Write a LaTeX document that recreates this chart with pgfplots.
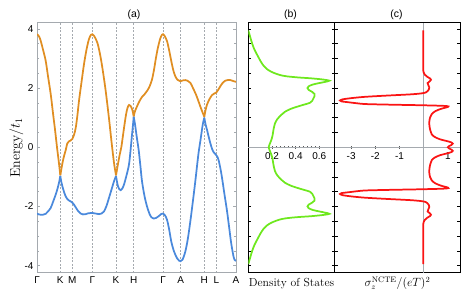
\documentclass[border=0pt]{standalone}
\usepackage{fontspec}
\setsansfont{Liberation Sans}
\usepackage{pgfplots}
\pgfplotsset{compat=1.18}
\definecolor{bandorange}{RGB}{224,142,34}
\definecolor{bandblue}{RGB}{74,137,220}
\definecolor{dosgreen}{RGB}{110,232,30}
\definecolor{ncred}{RGB}{250,20,20}
\definecolor{framegray}{RGB}{165,170,175}
\newcommand{\tl}{\sffamily\fontsize{10}{12}\selectfont}
\begin{document}
\begin{tikzpicture}[x=1bp,y=1bp]
\useasboundingbox (0,0) rectangle (468,300);
% ---------------- panel (a)
\begin{axis}[at={(37bp,27.3bp)}, anchor=south west, scale only axis,
  width=199bp, height=250bp,
  xmin=0, xmax=199, ymin=-4.24, ymax=4.21,
  axis line style={framegray, line width=0.8pt},
  xtick={0,23.3,35.3,55.3,79,96.7,126,143.7,167.3,179.3,199},
  xticklabels={Γ,K,M,Γ,K,H,Γ,A,H,L,A},
  xtick style={draw=none},
  xmajorgrids=true,
  major grid style={framegray, dash pattern=on 2pt off 1.5pt, line width=0.45pt},
  ytick={-4,-2,0,2,4}, yticklabels={-4,-2,0,2,4},
  minor y tick num=3, ytick pos=both,
  ytick style={framegray, line width=0.6pt},
  major tick length=3bp, minor tick length=2bp,
  ticklabel style={font=\tl},
  clip=true]
\addplot[bandorange, line width=1.75pt, smooth] coordinates {(0,3.82)(2,3.75)(3.7,3.6)(6,3.3)(8.7,2.92)(11,2.4)(13.7,1.8)(16,1.15)(18,0.6)(20,0.0)(22,-0.55)(23.3,-0.95)};
\addplot[bandorange, line width=1.75pt, smooth] coordinates {(23.3,-0.95)(25.3,-0.56)(27,-0.3)(28.7,-0.1)(30.3,0.13)(32,0.2)(33.7,0.23)(35.3,0.28)(37,0.42)(38.7,0.65)(40.3,1.05)(42,1.57)(44.5,2.2)(47,2.81)(49.5,3.3)(52,3.66)(54,3.8)(55.3,3.82)(57,3.77)(60.3,3.54)(63,3.15)(65.3,2.70)(68,2.08)(70.3,1.46)(72.5,0.82)(74.3,0.25)(76,-0.25)(77.3,-0.6)(79,-0.95)};
\addplot[bandorange, line width=1.75pt, smooth] coordinates {(79,-0.95)(81,-0.56)(82.7,-0.25)(84.3,0.0)(85.7,0.33)(87,0.65)(89,1.1)(90.5,1.33)(92,1.43)(93.5,1.4)(95.3,1.27)(96.7,1.04)};
\addplot[bandorange, line width=1.75pt, smooth] coordinates {(96.7,1.04)(98,1.22)(100,1.38)(102.5,1.56)(105,1.7)(107.5,1.79)(110,1.9)(112.5,2.05)(115,2.29)(117,2.62)(119,3.03)(121,3.38)(123.3,3.68)(125,3.8)(126,3.82)(127.5,3.77)(130,3.59)(132,3.3)(134.3,2.91)(136.3,2.6)(138.3,2.4)(140.5,2.28)(143.3,2.23)(146,2.26)(148.3,2.27)(150.5,2.25)(153.3,2.18)(156,2.0)(159,1.78)(161,1.6)(163.3,1.38)(165.3,1.2)(167.3,1.03)};
\addplot[bandorange, line width=1.75pt, smooth] coordinates {(167.3,1.03)(168.5,1.25)(170,1.44)(172.5,1.63)(175,1.76)(177,1.81)(179.3,1.85)(181,1.93)(183.3,2.06)(185.5,2.17)(188.3,2.25)(190.5,2.27)(193.3,2.27)(196,2.24)(199,2.21)};
\addplot[bandblue, line width=1.75pt, smooth] coordinates {(0,-2.24)(2,-2.27)(3.7,-2.28)(6,-2.28)(8.7,-2.25)(11,-2.17)(13.7,-2.05)(16,-1.85)(18.7,-1.6)(20.5,-1.4)(22,-1.2)(23.3,-0.97)};
\addplot[bandblue, line width=1.75pt, smooth] coordinates {(23.3,-0.97)(24.5,-1.2)(26.3,-1.43)(28.3,-1.63)(30.3,-1.75)(32,-1.8)(33.7,-1.83)(35.3,-1.87)(36.8,-1.93)(38.7,-2.03)(41,-2.15)(43.7,-2.24)(46,-2.27)(48.7,-2.26)(51.5,-2.23)(55.3,-2.22)(58.5,-2.24)(62,-2.26)(64.5,-2.24)(67,-2.17)(69.5,-1.98)(72,-1.71)(74.5,-1.43)(77,-1.15)(79,-0.97)};
\addplot[bandblue, line width=1.75pt, smooth] coordinates {(79,-0.97)(80,-1.17)(81,-1.32)(82.3,-1.42)(83.7,-1.45)(85.2,-1.4)(87,-1.26)(89.5,-0.95)(92,-0.58)(93.7,-0.05)(95,0.42)(96,0.76)(96.7,1.03)};
\addplot[bandblue, line width=1.75pt, smooth] coordinates {(96.7,1.03)(98,0.78)(99,0.53)(100.3,0.22)(101.7,-0.1)(103.3,-0.6)(105,-1.15)(107.5,-1.65)(110,-2.0)(112.5,-2.25)(114.5,-2.37)(116.7,-2.41)(119,-2.39)(121.7,-2.33)(124,-2.26)(126,-2.24)(128,-2.3)(130,-2.45)(132,-2.75)(134.3,-3.19)(137,-3.52)(140,-3.75)(142,-3.83)(143.5,-3.85)(145.5,-3.8)(148.3,-3.53)(150.8,-3.1)(153.3,-2.51)(155.8,-1.85)(158.3,-1.15)(160.3,-0.55)(161.7,-0.15)(163.3,0.2)(165.7,0.76)(167.3,1.0)};
\addplot[bandblue, line width=1.75pt, smooth] coordinates {(167.3,1.0)(168.5,0.78)(170,0.59)(171.7,0.35)(173.3,0.14)(175,-0.05)(176.7,-0.17)(178.3,-0.23)(179.3,-0.27)(180.5,-0.33)(181.7,-0.45)(183.3,-0.7)(185,-1.03)(187.5,-1.6)(190,-2.15)(192.3,-2.75)(194.3,-3.27)(196.7,-3.72)(198,-3.82)(199,-3.84)};
\end{axis}
% ---------------- panel (b) frame
\begin{axis}[at={(248.3bp,27.3bp)}, anchor=south west, scale only axis,
  width=86.4bp, height=250bp,
  xmin=0, xmax=0.73, ymin=-4.24, ymax=4.21,
  xtick=\empty, ytick={-4,-3.5,...,4}, yticklabels={}, ytick pos=both,
  axis line style={black, line width=0.8pt},
  ytick style={black, line width=0.5pt}, major tick length=3bp]
\end{axis}
% ---------------- panel (b) data
\begin{axis}[at={(248.3bp,27.3bp)}, anchor=south west, scale only axis,
  width=86.4bp, height=250bp,
  xmin=0, xmax=0.73, ymin=-4.24, ymax=4.21,
  axis x line=middle, axis y line=none,
  axis line style={-}, every inner x axis line/.append style={-},
  x axis line style={framegray, line width=0.6pt},
  xtick={0.2,0.4,0.6}, xticklabels={0.2,0.4,0.6}, minor x tick num=5,
  xtick style={gray!70!black, line width=0.4pt},
  major tick length=3bp, minor tick length=1.8bp,
  ytick=\empty, ticklabel style={font=\tl}]
\addplot[dosgreen, line width=1.75pt, smooth] coordinates {(0.0,-3.95)(0.018,-3.7)(0.033,-3.5)(0.052,-3.3)(0.078,-3.1)(0.105,-2.9)(0.13,-2.75)(0.155,-2.65)(0.195,-2.55)(0.26,-2.45)(0.32,-2.40)(0.42,-2.36)(0.53,-2.33)(0.63,-2.29)(0.685,-2.25)(0.65,-2.21)(0.60,-2.17)(0.545,-2.12)(0.51,-2.06)(0.50,-2.0)(0.51,-1.94)(0.54,-1.87)(0.56,-1.80)(0.56,-1.73)(0.55,-1.65)(0.54,-1.57)(0.52,-1.50)(0.47,-1.44)(0.42,-1.38)(0.36,-1.30)(0.31,-1.2)(0.28,-1.1)(0.245,-0.95)(0.225,-0.8)(0.213,-0.6)(0.205,-0.4)(0.195,-0.25)(0.18,-0.1)(0.172,0.0)(0.18,0.1)(0.195,0.25)(0.205,0.4)(0.213,0.6)(0.225,0.8)(0.245,0.95)(0.28,1.1)(0.31,1.2)(0.36,1.30)(0.42,1.38)(0.47,1.44)(0.52,1.50)(0.54,1.57)(0.55,1.65)(0.56,1.73)(0.56,1.80)(0.54,1.87)(0.51,1.94)(0.50,2.0)(0.51,2.06)(0.545,2.12)(0.60,2.17)(0.65,2.21)(0.685,2.25)(0.63,2.29)(0.53,2.33)(0.42,2.36)(0.32,2.40)(0.26,2.45)(0.195,2.55)(0.155,2.65)(0.13,2.75)(0.105,2.9)(0.078,3.1)(0.052,3.3)(0.033,3.5)(0.018,3.7)(0.0,3.95)};
\end{axis}
% ---------------- panel (c) frame
\begin{axis}[at={(334.7bp,27.3bp)}, anchor=south west, scale only axis,
  width=125.3bp, height=250bp,
  xmin=-3.68, xmax=1.5, ymin=-4.24, ymax=4.21,
  xtick=\empty, ytick={-4,-3.5,...,4}, yticklabels={}, ytick pos=both,
  axis line style={black, line width=0.8pt},
  ytick style={black, line width=0.5pt}, major tick length=3bp]
\end{axis}
% ---------------- panel (c) data
\begin{axis}[at={(334.7bp,27.3bp)}, anchor=south west, scale only axis,
  width=125.3bp, height=250bp,
  xmin=-3.68, xmax=1.5, ymin=-4.24, ymax=4.21,
  axis lines=middle,
  axis line style={-}, every inner x axis line/.append style={-}, every inner y axis line/.append style={-},
  x axis line style={framegray, line width=0.6pt},
  y axis line style={framegray, line width=0.8pt},
  xtick={-3,-2,-1,1}, xticklabels={-3,-2,-1,1}, minor x tick num=4,
  xtick style={gray!70!black, line width=0.4pt},
  major tick length=3bp, minor tick length=1.8bp,
  ytick=\empty, ticklabel style={font=\tl}]
\addplot[ncred, line width=1.75pt, smooth] coordinates {(-0.02,-3.95)(-0.02,-3.5)(-0.02,-3.0)(-0.02,-2.6)(0.0,-2.52)(0.05,-2.45)(0.15,-2.38)(0.27,-2.32)(0.30,-2.28)(0.25,-2.23)(0.16,-2.17)(0.19,-2.10)(0.23,-2.02)(0.21,-1.95)(0.15,-1.89)(0.08,-1.85)(-0.1,-1.82)(-0.5,-1.79)(-1.2,-1.76)(-1.9,-1.73)(-2.5,-1.70)(-3.0,-1.66)(-3.35,-1.62)(-3.46,-1.58)(-3.4,-1.55)(-3.1,-1.52)(-2.8,-1.49)(-2.4,-1.46)(-1.4,-1.44)(-0.1,-1.42)(0.8,-1.40)(1.02,-1.38)(0.95,-1.35)(0.72,-1.30)(0.48,-1.22)(0.33,-1.12)(0.26,-1.0)(0.23,-0.85)(0.24,-0.7)(0.28,-0.55)(0.33,-0.44)(0.45,-0.35)(0.67,-0.27)(1.0,-0.2)(1.15,-0.16)(1.2,-0.12)(1.15,-0.08)(1.05,-0.04)(1.0,0.0)(1.05,0.04)(1.15,0.08)(1.2,0.12)(1.15,0.16)(1.0,0.2)(0.67,0.27)(0.45,0.35)(0.33,0.44)(0.28,0.55)(0.24,0.7)(0.23,0.85)(0.26,1.0)(0.33,1.12)(0.48,1.22)(0.72,1.30)(0.95,1.35)(1.02,1.38)(0.8,1.40)(-0.1,1.42)(-1.4,1.44)(-2.4,1.46)(-2.8,1.49)(-3.1,1.52)(-3.4,1.55)(-3.46,1.58)(-3.35,1.62)(-3.0,1.66)(-2.5,1.70)(-1.9,1.73)(-1.2,1.76)(-0.5,1.79)(-0.1,1.82)(0.08,1.85)(0.15,1.89)(0.21,1.95)(0.23,2.02)(0.19,2.10)(0.16,2.17)(0.25,2.23)(0.30,2.28)(0.27,2.32)(0.15,2.38)(0.05,2.45)(0.0,2.52)(-0.02,2.6)(-0.02,3.0)(-0.02,3.5)(-0.02,3.95)};
\end{axis}
% ---------------- texts
\node[font=\sffamily\fontsize{10.5}{12}\selectfont] at (134,285) {(a)};
\node[font=\sffamily\fontsize{10.5}{12}\selectfont] at (290.5,285) {(b)};
\node[font=\sffamily\fontsize{10.5}{12}\selectfont] at (396.5,285) {(c)};
\node[rotate=90, font=\fontsize{14}{16}\selectfont] at (16.5,152) {Energy/$t_1$};
\node[font=\fontsize{11.7}{14}\selectfont] at (291.5,16) {Density of States};
\node[font=\fontsize{12}{14}\selectfont] at (397.5,17) {$\sigma_z^{\mathrm{NCTE}}/(eT)^2$};
\end{tikzpicture}
\end{document}
